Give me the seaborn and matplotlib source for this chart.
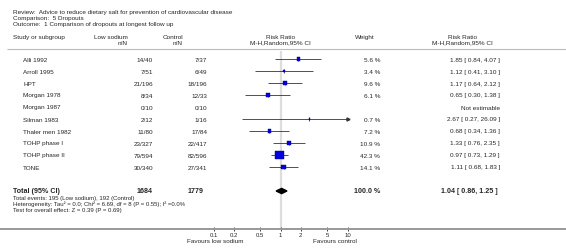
import numpy as np
import pandas as pd
import seaborn as sns
import matplotlib.pyplot as plt

# study data
studies = ["Alli 1992", "Arroll 1995", "HPT", "Morgan 1978", "Morgan 1987",
           "Silman 1983", "Thaler men 1982", "TOHP phase I", "TOHP phase II", "TONE"]
low_nN = ["14/40", "7/51", "21/196", "8/34", "0/10", "2/12", "11/80", "23/327", "79/594", "30/340"]
ctrl_nN = ["7/37", "6/49", "18/196", "12/33", "0/10", "1/16", "17/84", "22/417", "82/596", "27/341"]
weight = [5.6, 3.4, 9.6, 6.1, np.nan, 0.7, 7.2, 10.9, 42.3, 14.1]
rr = [1.85, 1.12, 1.17, 0.65, np.nan, 2.67, 0.68, 1.33, 0.97, 1.11]
ci_lo = [0.84, 0.41, 0.64, 0.30, np.nan, 0.27, 0.34, 0.76, 0.73, 0.68]
ci_hi = [4.07, 3.10, 2.12, 1.38, np.nan, 26.09, 1.36, 2.35, 1.29, 1.83]

total_low, total_ctrl = 1684, 1779
total_rr, total_lo, total_hi = 1.04, 0.86, 1.25
ticks = [0.1, 0.2, 0.5, 1, 2, 5, 10]
tick_labels = ["0.1", "0.2", "0.5", "1", "2", "5", "10"]

sns.set_style("white")
plt.rcParams['font.family'] = ['Liberation Sans', 'DejaVu Sans']

W, H = 566, 253
fig = plt.figure(figsize=(W / 100, H / 100), dpi=100)

# forest panel: log x, y in pixel rows
ax = fig.add_axes([0, 0, 1, 1])
ax.set_xscale('log')
px1, dec = 280.5, 67.0   # pixel of RR=1, pixels per decade
ax.set_xlim(10 ** (-px1 / dec), 10 ** ((W - px1) / dec))
ax.set_ylim(H, 0)
ax.set_facecolor('none')

df = pd.DataFrame({"study": studies, "rr": rr, "lo": ci_lo, "hi": ci_hi, "weight": weight})
df["y"] = 60 + 12 * np.arange(len(df))
est = df.dropna()

# reference line at 1
ax.vlines(1, 52, 229, color='#dddddd', lw=1.6, zorder=0)

# confidence intervals, clipped at the plot edge (10)
xmax = ticks[-1]
ax.hlines(est["y"], est["lo"], est["hi"].clip(upper=xmax), color='#333333', lw=0.6, zorder=2)
over = est[est["hi"] > xmax]
ax.plot([xmax] * len(over), over["y"], marker='>', ms=2.2, color='#333333', ls='none', zorder=3)
ax.plot(est["rr"], est["y"], marker='|', ms=3.5, mew=0.6, color='#333333', ls='none', zorder=3)

# weighted squares
sns.scatterplot(data=est, x="rr", y="y", size="weight", sizes=(0, 36), size_norm=(0, 42.3),
                marker='s', color='#0000dd', edgecolor='#000088', linewidth=0.3,
                legend=False, ax=ax, zorder=4)

# pooled diamond
yt = 192
ax.fill([total_lo, total_rr, total_hi, total_rr], [yt, yt - 2.6, yt, yt + 2.6],
        color='black', zorder=4)

# axis line across the full width
ax.axhline(229.5, color='#999999', lw=1.4, zorder=1)
for s in ['top', 'left', 'right', 'bottom']:
    ax.spines[s].set_visible(False)
ax.spines['bottom'].set_position(('data', 229.5))
ax.set_xticks(ticks, tick_labels)
ax.minorticks_off()
ax.set_yticks([])
ax.tick_params(axis='x', direction='inout', length=2.2, width=0.6, color='#222222',
               labelsize=4.3, pad=1.5, bottom=True)
ax.set_xlabel("")
ax.set_ylabel("")

# text layer in pixel coordinates
tx = fig.add_axes([0, 0, 1, 1])
tx.set_xlim(0, W)
tx.set_ylim(H, 0)
tx.axis('off')

fs = 4.6
tx.text(13, 12, "Review:  Advice to reduce dietary salt for prevention of cardiovascular disease", fontsize=fs, va='center')
tx.text(13, 18, "Comparison:  5 Dropouts", fontsize=fs, va='center')
tx.text(13, 24, "Outcome:  1 Comparison of dropouts at longest follow up", fontsize=fs, va='center')

tx.text(13, 37, "Study or subgroup", fontsize=fs, va='center')
tx.text(128, 37, "Low sodium", fontsize=fs, va='center', ha='right')
tx.text(128, 43, "n/N", fontsize=fs, va='center', ha='right')
tx.text(183, 37, "Control", fontsize=fs, va='center', ha='right')
tx.text(183, 43, "n/N", fontsize=fs, va='center', ha='right')
tx.text(px1, 37, "Risk Ratio", fontsize=fs, va='center', ha='center')
tx.text(px1, 43, "M-H,Random,95% CI", fontsize=fs, va='center', ha='center')
tx.text(365, 37, "Weight", fontsize=fs, va='center', ha='center')
tx.text(462, 37, "Risk Ratio", fontsize=fs, va='center', ha='center')
tx.text(462, 43, "M-H,Random,95% CI", fontsize=fs, va='center', ha='center')
tx.hlines(49.5, 7, W, color='#bbbbbb', lw=0.8)

for i, r in df.iterrows():
    y = r["y"]
    tx.text(23, y, r["study"], fontsize=fs, va='center')
    tx.text(153, y, low_nN[i], fontsize=fs, va='center', ha='right')
    tx.text(207, y, ctrl_nN[i], fontsize=fs, va='center', ha='right')
    if np.isnan(r["rr"]):
        tx.text(500, y, "Not estimable", fontsize=fs, va='center', ha='right')
    else:
        tx.text(380, y, f"{r['weight']:.1f} %", fontsize=fs, va='center', ha='right')
        tx.text(500, y, f"{r['rr']:.2f} [ {r['lo']:.2f}, {r['hi']:.2f} ]",
                fontsize=fs, va='center', ha='right')

fb = 5.1
tx.text(13, yt, "Total (95% CI)", fontsize=fb, va='center', weight='bold')
tx.text(153, yt, str(total_low), fontsize=fb, va='center', ha='right', weight='bold')
tx.text(203, yt, str(total_ctrl), fontsize=fb, va='center', ha='right', weight='bold')
tx.text(380, yt, "100.0 %", fontsize=fb, va='center', ha='right', weight='bold')
tx.text(498, yt, f"{total_rr:.2f} [ {total_lo:.2f}, {total_hi:.2f} ]", fontsize=fb,
        va='center', ha='right', weight='bold')

tx.text(13, 198.5, "Total events: 195 (Low sodium), 192 (Control)", fontsize=4.3, va='center')
tx.text(13, 204.5, "Heterogeneity: Tau\u00b2 = 0.0; Chi\u00b2 = 6.69, df = 8 (P = 0.55); I\u00b2 =0.0%", fontsize=4.3, va='center')
tx.text(13, 210.5, "Test for overall effect: Z = 0.39 (P = 0.69)", fontsize=4.3, va='center')

tx.text(215, 242, "Favours low sodium", fontsize=fs, va='center', ha='center')
tx.text(335, 242, "Favours control", fontsize=fs, va='center', ha='center')

fig.savefig("out.png", dpi=100)
